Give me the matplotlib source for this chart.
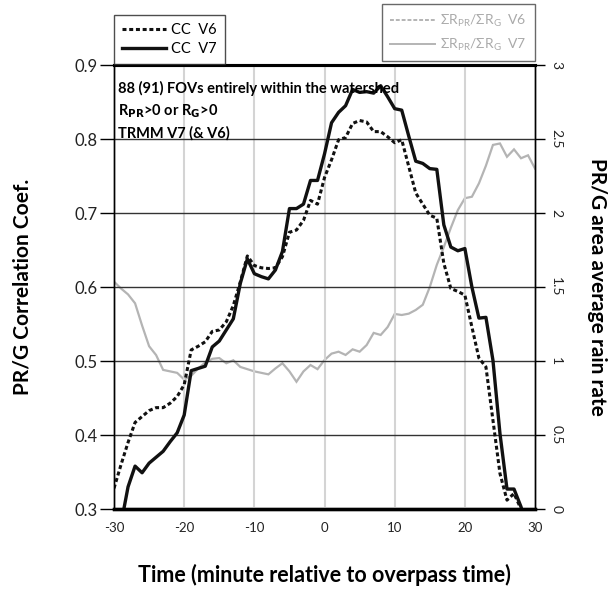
import numpy as np
import matplotlib
matplotlib.use("Agg")
import matplotlib.pyplot as plt
from matplotlib.lines import Line2D

plt.rcParams['font.family'] = ['Lato', 'DejaVu Sans']
plt.rcParams['mathtext.default'] = 'regular'

# Time (minutes relative to overpass)
minutes = list(range(-30, 31))

cc_v6 = [0.328, 0.360, 0.390, 0.417, 0.425, 0.433, 0.437, 0.437, 0.443, 0.452,
         0.468, 0.515, 0.520, 0.526, 0.540, 0.542, 0.553, 0.575, 0.607, 0.642,
         0.629, 0.626, 0.625, 0.626, 0.641, 0.674, 0.677, 0.690, 0.717, 0.712,
         0.748, 0.772, 0.799, 0.802, 0.821, 0.825, 0.823, 0.810, 0.810, 0.803,
         0.795, 0.799, 0.763, 0.727, 0.712, 0.697, 0.693, 0.632, 0.598, 0.594,
         0.589, 0.546, 0.504, 0.492, 0.420, 0.348, 0.312, 0.321, 0.300, 0.270,
         0.240]

cc_v7 = [0.250, 0.280, 0.330, 0.358, 0.349, 0.362, 0.370, 0.378, 0.391, 0.403,
         0.427, 0.487, 0.490, 0.493, 0.519, 0.527, 0.542, 0.557, 0.605, 0.638,
         0.618, 0.614, 0.611, 0.623, 0.648, 0.706, 0.706, 0.712, 0.744, 0.744,
         0.780, 0.822, 0.836, 0.845, 0.867, 0.863, 0.864, 0.862, 0.872, 0.857,
         0.841, 0.839, 0.804, 0.770, 0.767, 0.760, 0.759, 0.684, 0.654, 0.649,
         0.652, 0.600, 0.558, 0.559, 0.501, 0.402, 0.327, 0.327, 0.303, 0.270,
         0.240]

ratio_v7 = [1.536, 1.49, 1.45, 1.39, 1.24, 1.10, 1.04, 0.94, 0.93, 0.92,
            0.875, 0.90, 0.95, 0.99, 1.015, 1.02, 0.985, 1.005, 0.96, 0.945,
            0.93, 0.92, 0.91, 0.95, 0.985, 0.93, 0.86, 0.93, 0.973, 0.945,
            1.007, 1.05, 1.063, 1.041, 1.079, 1.063, 1.108, 1.19, 1.176, 1.23,
            1.318, 1.311, 1.32, 1.345, 1.38, 1.50, 1.65, 1.77, 1.90, 2.02,
            2.10, 2.11, 2.20, 2.32, 2.46, 2.47, 2.38, 2.43, 2.37, 2.39,
            2.30]

x_ticks = [-30, -20, -10, 0, 10, 20, 30]
cc_ticks = [0.3, 0.4, 0.5, 0.6, 0.7, 0.8, 0.9]
cc_tick_labels = ['0.3', '0.4', '0.5', '0.6', '0.7', '0.8', '0.9']
rr_ticks = [0, 0.5, 1, 1.5, 2, 2.5, 3]
rr_tick_labels = ['0', '0.5', '1', '1.5', '2', '2.5', '3']

fig = plt.figure(figsize=(6.15, 5.91), dpi=100)
ax = fig.add_axes([0.1854, 0.1387, 0.6846, 0.7513])
ax2 = ax.twinx()
ax.set_zorder(ax2.get_zorder() + 1)
ax.patch.set_visible(False)

gray = '#b4b4b4'
ax2.plot(minutes, ratio_v7, color=gray, lw=1.6, solid_joinstyle='miter')
ax2.set_ylim(0, 3)
ax2.set_yticks(rr_ticks)
ax2.set_yticklabels(rr_tick_labels, rotation=-90, va='center', fontsize=10, color='#222222')
ax2.tick_params(axis='y', direction='out', length=7, width=1, pad=4)
ax2.set_ylabel('PR/G area average rain rate', rotation=-90, fontsize=15,
               fontweight='bold', labelpad=32)

# gridlines
for xv in x_ticks[1:-1]:
    ax.axvline(xv, color='#d4d4d4', lw=1.5, zorder=0)
for yv in cc_ticks[1:-1]:
    ax.axhline(yv, color='#333333', lw=1.0, zorder=0.5)

ax.plot(minutes, cc_v6, color='#111111', lw=2.2, linestyle=(0, (1.3, 0.9)), label='CC  V6')
ax.plot(minutes, cc_v7, color='#111111', lw=2.4, label='CC  V7')

ax.set_xlim(-30, 30)
ax.set_ylim(0.3, 0.9)
ax.set_xticks(x_ticks)
ax.set_xticklabels([str(v) for v in x_ticks], fontsize=9.5, color='#222222')
ax.tick_params(axis='x', length=0, pad=9)
ax.set_yticks(cc_ticks)
ax.set_yticklabels(cc_tick_labels, fontsize=12, color='#222222')
ax.tick_params(axis='y', direction='out', length=10, width=1, pad=2)

for a in (ax, ax2):
    a.spines['top'].set_linewidth(2.2)
    a.spines['bottom'].set_linewidth(2.4)
    a.spines['left'].set_linewidth(1.0)
    a.spines['right'].set_linewidth(1.0)

ax.set_xlabel('Time (minute relative to overpass time)', fontsize=15.5,
              fontweight='bold', labelpad=22)
ax.set_ylabel('PR/G Correlation Coef.', fontsize=15, fontweight='bold', labelpad=30)

ax.text(0.01, 0.965, '88 (91) FOVs entirely within the watershed', transform=ax.transAxes,
        fontsize=10.5, fontweight='bold', va='top', ha='left')
ax.text(0.01, 0.915, r'R$_{\mathbf{PR}}$>0 or R$_{\mathbf{G}}$>0', transform=ax.transAxes,
        fontsize=10.5, fontweight='bold', va='top', ha='left')
ax.text(0.01, 0.862, 'TRMM V7 (& V6)', transform=ax.transAxes,
        fontsize=10.5, fontweight='bold', va='top', ha='left')

leg1 = ax.legend(loc='lower left', bbox_to_anchor=(0.0, 1.003), fontsize=10.5,
                 frameon=True, fancybox=False, edgecolor='#222222', handlelength=3.0,
                 handletextpad=0.35, borderpad=0.55, labelspacing=0.3, borderaxespad=0)
leg1.get_frame().set_linewidth(1.0)

h_v6 = Line2D([], [], color=gray, lw=1.4, linestyle=(0, (2, 1)))
h_v7 = Line2D([], [], color=gray, lw=1.4)
leg2 = ax.legend([h_v6, h_v7],
                 [r'$\Sigma$R$_{PR}$/$\Sigma$R$_G$  V6', r'$\Sigma$R$_{PR}$/$\Sigma$R$_G$  V7'],
                 loc='lower right', bbox_to_anchor=(1.0, 1.008), fontsize=10,
                 frameon=True, fancybox=False, edgecolor='#444444', handlelength=3.2,
                 handletextpad=0.4, borderpad=0.6, labelspacing=0.6, borderaxespad=0,
                 labelcolor='#aaaaaa')
leg2.get_frame().set_linewidth(1.0)
ax.add_artist(leg1)

fig.savefig('out.png', dpi=100)
